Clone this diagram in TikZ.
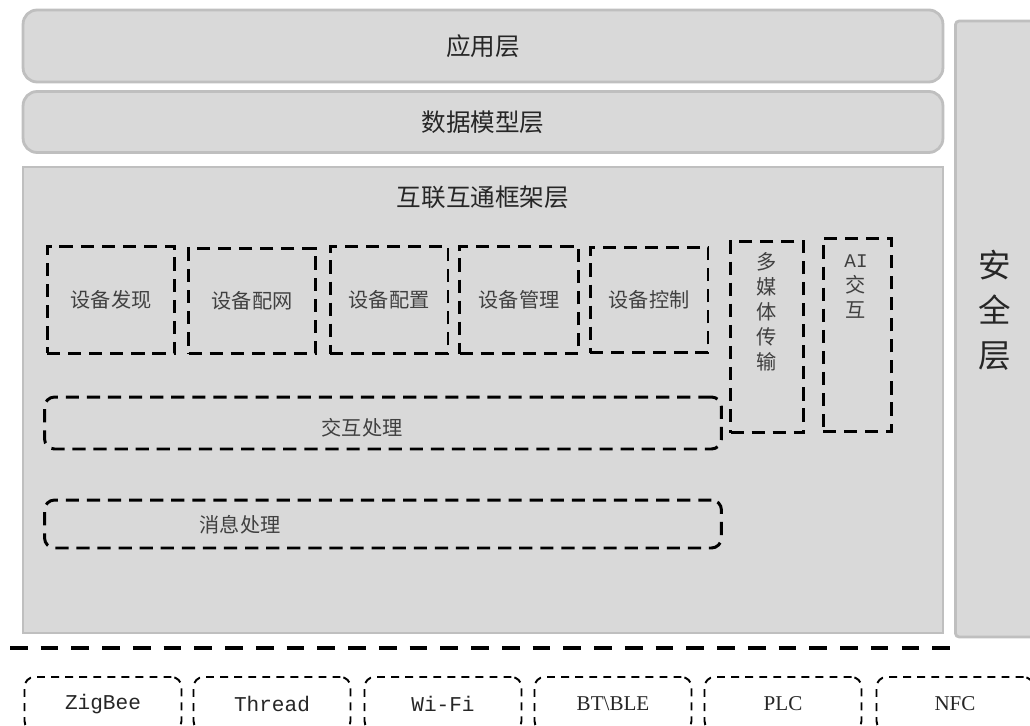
\documentclass[tikz,border=0pt]{standalone}
\usepackage{fontspec}
\setmainfont{Liberation Serif}
\setmonofont{Liberation Mono}
\newfontfamily\cjk{Noto Sans CJK SC}
\definecolor{layerfill}{HTML}{D9D9D9}
\definecolor{layerline}{HTML}{BFBFBF}

\begin{document}
\begin{tikzpicture}[x=0.02cm,y=-0.02cm]
\tikzstyle{layer}= [rectangle,draw=layerline,line width=1.6pt,fill=layerfill,inner sep=0pt,text=black!85,font=\cjk\fontsize{14}{17}\selectfont]
\tikzstyle{mod}= [rectangle,draw,line width=1.7pt,dash pattern=on 7.5pt off 4.5pt,inner sep=0pt,text=black!75,font=\cjk\fontsize{11.5}{14}\selectfont]
\tikzstyle{modtxt}= [align=center,inner sep=0pt,text=black!75,font=\cjk\fontsize{11.5}{14.2}\selectfont]
\tikzstyle{link}= [rectangle,draw,rounded corners=0.2cm,line width=1.1pt,dash pattern=on 4.5pt off 3.5pt,inner sep=0pt,minimum width=3.14cm,minimum height=1.08cm,text=black!85,font=\fontsize{12}{14}\selectfont]
\tikzstyle{sep}= [line width=2.8pt,dash pattern=on 10pt off 7.5pt]

\useasboundingbox (0,0) rectangle (1030,726);
\clip (0,0) rectangle (1030,726);

\path
	(483, 46) node[layer,rounded corners=0.28cm,minimum width=18.4cm,minimum height=1.44cm] (app) {应用层}
	(483,122) node[layer,rounded corners=0.28cm,minimum width=18.4cm,minimum height=1.22cm] (data) {数据模型层}
	(483,400) node[layer,minimum width=18.4cm,minimum height=9.32cm] (frame) {}
	(998,329) node[layer,rounded corners=2pt,minimum width=1.7cm,minimum height=12.32cm] (sec) {}
;
\node[text=black!85,font=\cjk\fontsize{14}{17}\selectfont] (frametitle) at (483,197) {互联互通框架层};
\node[align=center,text=black!85,font=\cjk\fontsize{18.5}{25.5}\selectfont] (sectitle) at (995,310) {安\\全\\层};

\path
	(111,300) node[mod,minimum width=2.56cm,minimum height=2.14cm] (disc) {设备发现}
	(252,301) node[mod,minimum width=2.54cm,minimum height=2.10cm] (net)  {设备配网}
	(389,300) node[mod,minimum width=2.36cm,minimum height=2.16cm] (conf) {设备配置}
	(519,300) node[mod,minimum width=2.38cm,minimum height=2.16cm] (mgmt) {设备管理}
	(649,300) node[mod,minimum width=2.36cm,minimum height=2.12cm] (ctrl) {设备控制}
	(767,337) node[mod,minimum width=1.46cm,minimum height=3.84cm] (media) {}
	(857,335) node[mod,minimum width=1.36cm,minimum height=3.88cm] (ai) {}
	(383,423) node[mod,rounded corners=0.2cm,minimum width=13.54cm,minimum height=1.04cm] (inter) {}
	(383,524) node[mod,rounded corners=0.2cm,minimum width=13.54cm,minimum height=0.96cm] (msg) {}
;
\node[modtxt] (mediatxt) at (767,312) {多\\媒\\体\\传\\输};
\node[modtxt] (aitxt) at (856,287) {{\ttfamily\fontsize{11}{14.2}\selectfont AI}\\交\\互};
\node[modtxt] (intertxt) at (362,428) {交互处理};
\node[modtxt] (msgtxt) at (240,525) {消息处理};

\coordinate (sepl) at (10,648);
\coordinate (sepr) at (953,648);
\draw[sep] (sepl) -- (sepr);

\path
	(103,704) node[link,font=\ttfamily\fontsize{12}{14}\selectfont] (zig)  {ZigBee}
	(272,704) node[link,font=\ttfamily\fontsize{12}{14}\selectfont] (thr)  {Thread}
	(443,704) node[link,font=\ttfamily\fontsize{12}{14}\selectfont] (wifi) {Wi-Fi}
	(613,704) node[link] (bt)   {BT\textbackslash BLE}
	(783,704) node[link] (plc)  {PLC}
	(955,704) node[link] (nfc)  {NFC}
;
\end{tikzpicture}
\end{document}
